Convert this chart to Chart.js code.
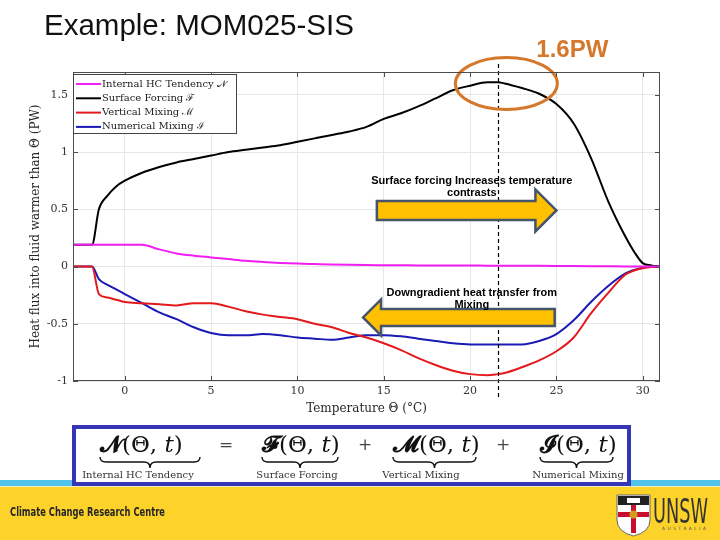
<!DOCTYPE html>
<html>
<head>
<meta charset="utf-8">
<script src="https://cdn.jsdelivr.net/npm/chart.js@4.4.1/dist/chart.umd.min.js"></script>
<style>
  body { margin: 0; width: 720px; height: 540px; position: relative; overflow: hidden; background: #fff; }
  #heat { position: absolute; left: 0; top: 0; }
  #slide { position: absolute; left: 0; top: 0; pointer-events: none; }
</style>
</head>
<body>
<canvas id="heat" width="720" height="425"></canvas>
<svg id="slide" width="720" height="540" xmlns="http://www.w3.org/2000/svg">
  <text x="44" y="35" font-family="Liberation Sans, Arial, sans-serif" font-size="29.5" fill="#111">Example: MOM025-SIS</text>

  <!-- budget equation -->
  <rect x="74" y="427" width="555" height="57" fill="#fff" stroke="#3535b5" stroke-width="4"/>
  <g font-family="DejaVu Serif, serif" fill="#111">
    <text x="100" y="452" font-size="23"><tspan font-weight="bold">𝓝</tspan>(Θ, <tspan font-style="italic">t</tspan>)</text>
    <text x="226" y="450" font-size="17" text-anchor="middle" fill="#444">=</text>
    <text x="262" y="452" font-size="23"><tspan font-weight="bold">𝓕</tspan>(Θ, <tspan font-style="italic">t</tspan>)</text>
    <text x="365" y="450" font-size="17" text-anchor="middle" fill="#444">+</text>
    <text x="393" y="452" font-size="23"><tspan font-weight="bold">𝓜</tspan>(Θ, <tspan font-style="italic">t</tspan>)</text>
    <text x="503" y="450" font-size="17" text-anchor="middle" fill="#444">+</text>
    <text x="540" y="452" font-size="23"><tspan font-weight="bold">𝓘</tspan>(Θ, <tspan font-style="italic">t</tspan>)</text>
    <g font-size="10" text-anchor="middle" fill="#333">
      <text x="138" y="478">Internal HC Tendency</text>
      <text x="297" y="478">Surface Forcing</text>
      <text x="421" y="478">Vertical Mixing</text>
      <text x="578" y="478">Numerical Mixing</text>
    </g>
  </g>
  <g id="braces" fill="none" stroke="#111" stroke-width="1.4"></g>

  <!-- footer band -->
  <rect x="0" y="480" width="72" height="6" fill="#52c3ea"/>
  <rect x="631" y="480" width="89" height="6" fill="#52c3ea"/>
  <rect x="0" y="486" width="720" height="1" fill="#e9f1c4"/>
  <rect x="0" y="487" width="720" height="53" fill="#fdd32a"/>
  <text x="10" y="516" font-family="DejaVu Sans Condensed, DejaVu Sans, sans-serif" font-size="11.5" font-weight="600" fill="#262626" textLength="155" lengthAdjust="spacingAndGlyphs">Climate Change Research Centre</text>
  <g>
    <path d="M617 495 H650 V520 Q650 532 633.5 536 Q617 532 617 520 Z" fill="#fff" stroke="#666" stroke-width="1"/>
    <rect x="618" y="496" width="31" height="9" fill="#222"/>
    <rect x="627" y="498" width="13" height="5" fill="#fff"/>
    <rect x="631" y="505" width="5" height="28" fill="#c8102e"/>
    <rect x="618" y="512" width="31" height="5" fill="#c8102e"/>
    <circle cx="633.5" cy="514.5" r="4" fill="#d49a1f"/>
    <text x="653" y="523" font-family="DejaVu Sans Condensed, DejaVu Sans, sans-serif" font-size="33" fill="#333" textLength="55" lengthAdjust="spacingAndGlyphs">UNSW</text>
    <text x="662" y="530" font-family="DejaVu Sans, sans-serif" font-size="4.5" fill="#555" textLength="44" lengthAdjust="spacing">AUSTRALIA</text>
  </g>
</svg>
<script>
// temperature grid (deg C) and heat fluxes (PW)
const temps = [-3, -1.9, -1.5, -1, -0.5, 0, 1, 2, 3, 4, 5, 6, 7, 8, 9, 10, 11, 12, 13, 14, 15,
               16, 17, 18, 19, 20, 21, 21.6, 22, 23, 24, 25, 26, 27, 28, 29, 29.5, 30, 30.5, 31];
const tendency = [0.19, 0.19, 0.19, 0.19, 0.19, 0.19, 0.19, 0.15, 0.115, 0.095, 0.08, 0.065, 0.05, 0.04, 0.032, 0.026, 0.022, 0.018, 0.015, 0.013, 0.012,
                  0.011, 0.01, 0.01, 0.01, 0.01, 0.008, 0.008, 0.008, 0.007, 0.006, 0.005, 0.004, 0.003, 0.002, 0.001, 0, 0, 0, 0];
const forcing = [0.19, 0.19, 0.50, 0.62, 0.70, 0.75, 0.82, 0.87, 0.91, 0.94, 0.97, 1.00, 1.02, 1.04, 1.06, 1.09, 1.12, 1.15, 1.18, 1.22, 1.29,
                 1.34, 1.40, 1.47, 1.54, 1.58, 1.61, 1.61, 1.60, 1.56, 1.51, 1.42, 1.25, 0.95, 0.57, 0.26, 0.13, 0.03, 0.01, 0];
const vertMix = [0, 0, -0.24, -0.27, -0.29, -0.31, -0.32, -0.33, -0.34, -0.32, -0.32, -0.35, -0.39, -0.42, -0.44, -0.46, -0.50, -0.53, -0.58, -0.62, -0.67,
                 -0.73, -0.80, -0.86, -0.91, -0.94, -0.95, -0.94, -0.93, -0.88, -0.82, -0.74, -0.62, -0.41, -0.23, -0.07, -0.035, -0.015, -0.005, 0];
const numMix = [0, 0, -0.11, -0.16, -0.20, -0.24, -0.32, -0.40, -0.46, -0.53, -0.58, -0.60, -0.60, -0.59, -0.60, -0.62, -0.63, -0.64, -0.62, -0.60, -0.60,
                -0.61, -0.63, -0.65, -0.67, -0.68, -0.68, -0.68, -0.68, -0.68, -0.65, -0.59, -0.47, -0.31, -0.17, -0.06, -0.03, -0.01, -0.003, 0];
const seriesNames = ['Internal HC Tendency 𝒩', 'Surface Forcing ℱ', 'Vertical Mixing ℳ', 'Numerical Mixing ℐ'];
const xTicks = [0, 5, 10, 15, 20, 25, 30];
const yTicks = [-1, -0.5, 0, 0.5, 1, 1.5];
const peakTemp = 21.6;
const peakLabel = '1.6PW';

const serif = 'DejaVu Serif';

// underbraces below each term of the equation
(function () {
    const spans = [[100, 200], [262, 338], [393, 476], [540, 613]];
    const g = document.getElementById('braces');
    for (let s of spans) {
        const a = s[0], b = s[1], m = (a + b) / 2, y0 = 457, y1 = 462, y2 = 468;
        const p = document.createElementNS('http://www.w3.org/2000/svg', 'path');
        p.setAttribute('d', `M${a} ${y0} Q${a} ${y1} ${a + 6} ${y1} L${m - 6} ${y1} Q${m} ${y1} ${m} ${y2} Q${m} ${y1} ${m + 6} ${y1} L${b - 6} ${y1} Q${b} ${y1} ${b} ${y0}`);
        g.appendChild(p);
    }
})();

function arrow(ctx, xTail, xTip, yMid, bodyH, headH, headL) {
    const dir = xTip > xTail ? 1 : -1;
    const xNeck = xTip - dir * headL;
    ctx.beginPath();
    ctx.moveTo(xTail, yMid - bodyH / 2);
    ctx.lineTo(xNeck, yMid - bodyH / 2);
    ctx.lineTo(xNeck, yMid - headH / 2);
    ctx.lineTo(xTip, yMid);
    ctx.lineTo(xNeck, yMid + headH / 2);
    ctx.lineTo(xNeck, yMid + bodyH / 2);
    ctx.lineTo(xTail, yMid + bodyH / 2);
    ctx.closePath();
    ctx.fillStyle = '#ffc000';
    ctx.fill();
    ctx.lineWidth = 2.5;
    ctx.strokeStyle = '#44546a';
    ctx.stroke();
}

const slideMarks = {
    id: 'slideMarks',
    afterDatasetsDraw: function (chart) {
        const ctx = chart.ctx, xs = chart.scales.x, ys = chart.scales.y;
        ctx.save();

        // dashed line through the peak
        const xp = Math.round(xs.getPixelForValue(peakTemp)) + 0.5;
        ctx.setLineDash([4, 3]);
        ctx.strokeStyle = '#000';
        ctx.lineWidth = 1.2;
        ctx.beginPath();
        ctx.moveTo(xp, 64);
        ctx.lineTo(xp, 400);
        ctx.stroke();
        ctx.setLineDash([]);

        // arrows
        arrow(ctx, xs.getPixelForValue(14.6), xs.getPixelForValue(25.0), ys.getPixelForValue(0.49), 19, 42, 21);
        arrow(ctx, xs.getPixelForValue(24.9), xs.getPixelForValue(13.8), ys.getPixelForValue(-0.445), 17, 36, 18);

        ctx.fillStyle = '#000';
        ctx.font = 'bold 11px "Liberation Sans", Arial, sans-serif';
        ctx.textAlign = 'center';
        ctx.textBaseline = 'alphabetic';
        const xt = xs.getPixelForValue(20.1);
        let yt = ys.getPixelForValue(0.717);
        ctx.fillText('Surface forcing Increases temperature', xt, yt);
        ctx.fillText('contrasts', xt, yt + 12);
        yt = ys.getPixelForValue(-0.253);
        ctx.fillText('Downgradient heat transfer from', xt, yt);
        ctx.fillText('Mixing', xt, yt + 12);

        // orange ellipse round the peak
        const cx = xs.getPixelForValue(22.1), cy = ys.getPixelForValue(1.6);
        ctx.strokeStyle = '#d5782c';
        ctx.lineWidth = 3;
        ctx.beginPath();
        ctx.ellipse(cx, cy, 51, 26, 0, 0, Math.PI * 2);
        ctx.stroke();
        ctx.fillStyle = '#d5782c';
        ctx.font = 'bold 24px "Liberation Sans", Arial, sans-serif';
        ctx.fillText(peakLabel, cx + 66, cy - 26);
        ctx.restore();
    },
    afterDraw: function (chart) {
        const ctx = chart.ctx, a = chart.chartArea, xs = chart.scales.x, ys = chart.scales.y;
        ctx.save();
        // matlab style box and inward ticks
        ctx.strokeStyle = '#4d4d4d';
        ctx.lineWidth = 1;
        ctx.strokeRect(a.left + 0.5, a.top + 0.5, a.right - a.left - 1, a.bottom - a.top - 1);
        ctx.beginPath();
        for (let v of xTicks) {
            const px = Math.round(xs.getPixelForValue(v)) + 0.5;
            ctx.moveTo(px, a.bottom); ctx.lineTo(px, a.bottom - 5);
            ctx.moveTo(px, a.top); ctx.lineTo(px, a.top + 5);
        }
        for (let v of yTicks) {
            const py = Math.round(ys.getPixelForValue(v)) + 0.5;
            ctx.moveTo(a.left, py); ctx.lineTo(a.left + 5, py);
            ctx.moveTo(a.right, py); ctx.lineTo(a.right - 5, py);
        }
        ctx.stroke();

        // legend box top left
        const x0 = a.left, y0 = a.top + 2, w = 163, h = 59;
        ctx.fillStyle = '#fff';
        ctx.fillRect(x0, y0, w, h);
        ctx.strokeStyle = '#444';
        ctx.strokeRect(x0 + 0.5, y0 + 0.5, w, h);
        ctx.font = '10px "' + serif + '"';
        ctx.textBaseline = 'middle';
        ctx.textAlign = 'left';
        chart.data.datasets.forEach(function (ds, i) {
            const y = y0 + 10 + i * 14.3;
            ctx.strokeStyle = ds.borderColor;
            ctx.lineWidth = 2;
            ctx.beginPath();
            ctx.moveTo(x0 + 3, y);
            ctx.lineTo(x0 + 28, y);
            ctx.stroke();
            ctx.fillStyle = '#222';
            ctx.fillText(ds.label, x0 + 29, y);
        });
        ctx.restore();
    }
};

const colors = ['#f01ef0', '#000000', '#e3191c', '#1a1ab4'];
let datasets = [];
[tendency, forcing, vertMix, numMix].forEach(function (vals, i) {
    datasets.push({
        label: seriesNames[i],
        data: temps.map(function (t, j) { return { x: t, y: vals[j] }; }),
        borderColor: colors[i],
        backgroundColor: colors[i],
        borderWidth: 2,
        pointRadius: 0,
        cubicInterpolationMode: 'monotone',
        fill: false
    });
});

new Chart(document.getElementById('heat'), {
    type: 'line',
    data: { datasets: datasets },
    plugins: [slideMarks],
    options: {
        responsive: false,
        animation: false,
        layout: { padding: { top: 72, right: 60, left: 0, bottom: 0 } },
        plugins: {
            legend: { display: false },
            tooltip: { enabled: false }
        },
        scales: {
            x: {
                type: 'linear',
                min: -3,
                max: 31,
                afterBuildTicks: function (s) { s.ticks = xTicks.map(function (v) { return { value: v }; }); },
                afterFit: function (s) { s.height = 44; },
                grid: { color: '#e6e6e6', drawTicks: false },
                border: { display: false },
                ticks: {
                    padding: 4,
                    autoSkip: false,
                    maxRotation: 0,
                    color: '#333',
                    font: { family: serif, size: 11 },
                    callback: function (v) { return String(v); }
                },
                title: {
                    display: true,
                    text: 'Temperature Θ (°C)',
                    color: '#262626',
                    font: { family: serif, size: 12 },
                    padding: { top: 0, bottom: 9 }
                }
            },
            y: {
                min: -1,
                max: 1.7,
                afterBuildTicks: function (s) { s.ticks = yTicks.map(function (v) { return { value: v }; }); },
                afterFit: function (s) { s.width = 73; },
                grid: { color: '#e6e6e6', drawTicks: false },
                border: { display: false },
                ticks: {
                    padding: 5,
                    color: '#333',
                    font: { family: serif, size: 11 },
                    callback: function (v) { return String(v); }
                },
                title: {
                    display: true,
                    text: 'Heat flux into fluid warmer than Θ (PW)',
                    color: '#262626',
                    font: { family: serif, size: 12 },
                    padding: { top: 29, bottom: 0 }
                }
            }
        }
    }
});
</script>
</body>
</html>
